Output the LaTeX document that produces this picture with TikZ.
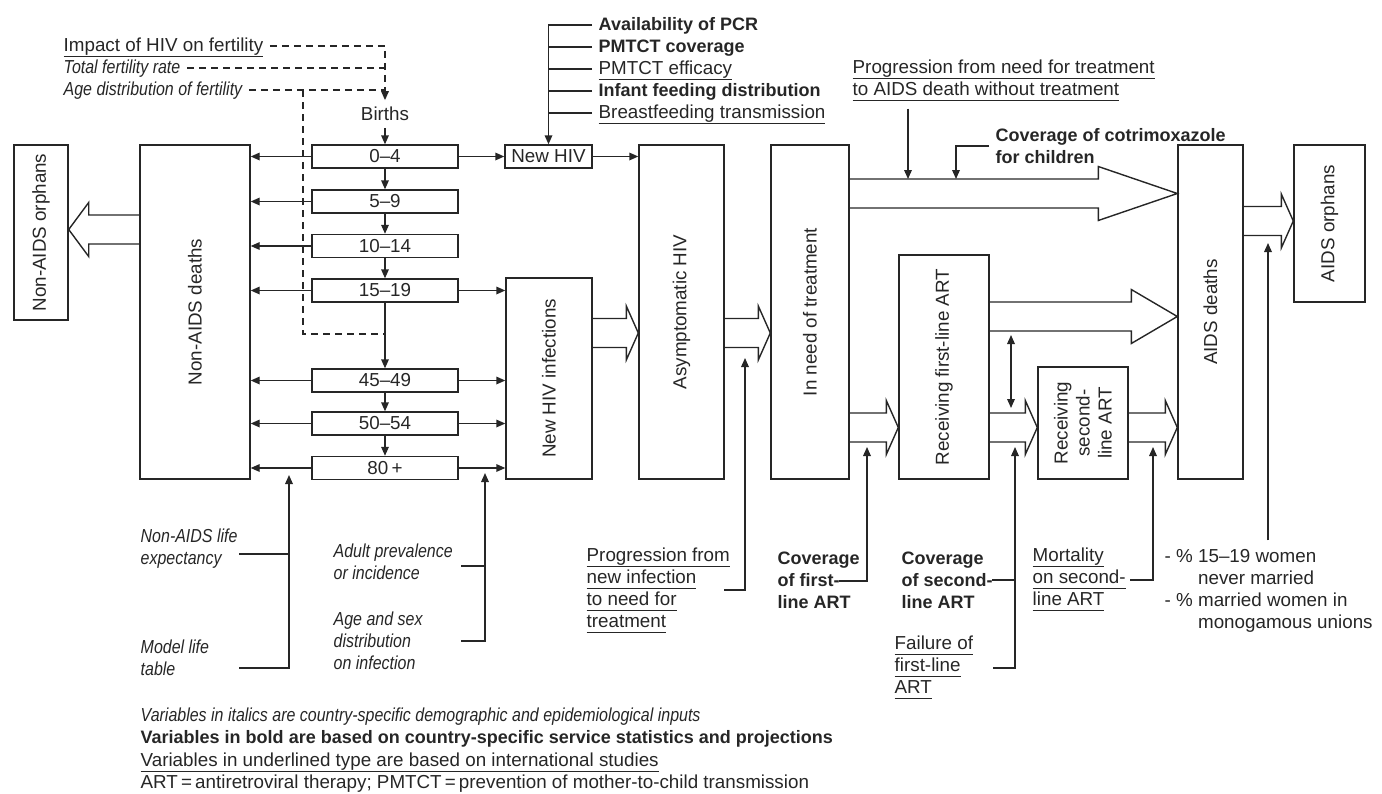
\documentclass[tikz,border=0pt]{standalone}
\usepackage{fontspec}
\setmainfont{Liberation Sans}
\newfontfamily\condfont{Liberation Sans}[FakeStretch=0.85]
\usetikzlibrary{arrows.meta,calc}

\newcommand{\undl}[1]{\underline{\raisebox{0pt}[\height][1.2pt]{#1}}}
\newcommand{\bftxt}{\fontsize{9}{11}\selectfont\bfseries}
% hollow flow arrow: start, tip, head length
\newcommand{\fatarrow}[3]{%
  \draw[fat] let \p1=(#1), \p2=(#2) in
    ({\x1},{\y1+7.25pt}) -- ({\x2-(#3)},{\y1+7.25pt}) -- ({\x2-(#3)},{\y1+13.5pt}) -- ({\x2},{\y1})
    -- ({\x2-(#3)},{\y1-13.5pt}) -- ({\x2-(#3)},{\y1-7.25pt}) -- ({\x1},{\y1-7.25pt});}

\tikzset{
  box/.style={draw, inner sep=1pt},
  agebox/.style={box, minimum width=73pt, minimum height=11.5pt},
  lbl/.style={inner sep=3pt, text height=7pt, text depth=2pt, anchor=west},
  mlbl/.style={inner sep=3pt, align=left, anchor=west},
  inp/.style={mlbl, font=\condfont\itshape},
  fertline/.style={dash pattern=on 3.5pt off 2.5pt},
  fat/.style={line join=miter}
}

\begin{document}
\fontsize{9.4}{11}\selectfont
\begin{tikzpicture}[x=0.5pt,y=-0.5pt,line width=0.7pt,color=black!85,
    >={Triangle[length=4.5pt,width=3.8pt]}]
  \useasboundingbox (0,0) rectangle (1382,793);

  % compartments
  \node[box,minimum width=27pt,minimum height=87.5pt,label={[rotate=90]center:Non-AIDS orphans}] (naorph) at (41,232.5) {};
  \node[box,minimum width=55pt,minimum height=167pt,label={[rotate=90]center:Non-AIDS deaths}] (nadeaths) at (195,312) {};
  \node[box,minimum width=43.5pt,minimum height=11.5pt] (newhiv) at (548.5,156.5) {New HIV};
  \node[box,minimum width=43pt,minimum height=100.5pt,label={[rotate=90]center:New HIV infections}] (newinf) at (549,378.5) {};
  \node[box,minimum width=42.5pt,minimum height=167pt,label={[rotate=90]center:Asymptomatic HIV}] (asym) at (681.5,312) {};
  \node[box,minimum width=39pt,minimum height=167pt,label={[rotate=90]center:In need of treatment}] (need) at (810,312) {};
  \node[box,minimum width=45pt,minimum height=112pt,label={[rotate=90]center:Receiving first-line ART}] (first) at (944,367) {};
  \node[box,minimum width=45pt,minimum height=56pt,label={[rotate=90,align=center]center:{Receiving\\second-\\line ART}}] (second) at (1083,423) {};
  \node[box,minimum width=32.5pt,minimum height=167pt,label={[rotate=90]center:AIDS deaths}] (aidsd) at (1210.5,312) {};
  \node[box,minimum width=35.5pt,minimum height=78.5pt,label={[rotate=90]center:AIDS orphans}] (aidso) at (1329.5,223.5) {};

  % age groups
  \node (births) at (385,114) {Births};
  \foreach \name/\yy/\txt in {a04/156.5/0–4, a59/201.5/5–9, a1014/246/10–14, a1519/290.5/15–19,
      a4549/380.5/45–49, a5054/423.5/50–54, a80/468/80\,+}
    \node[agebox] (\name) at (385,\yy) {\txt};
  \draw[->] (births) -- (a04);
  \foreach \a/\b in {a04/a59, a59/a1014, a1014/a1519, a1519/a4549, a4549/a5054, a5054/a80}
    \draw[->] (\a) -- (\b);
  \foreach \a in {a04,a59,a1014,a1519,a4549,a5054,a80}
    \draw[->] (\a.west) -- (\a.west -| nadeaths.east);
  \foreach \a in {a1519,a4549,a5054,a80}
    \draw[->] (\a.east) -- (\a.east -| newinf.west);
  \draw[->] (a04) -- (newhiv);
  \draw[->] (newhiv) -- (newhiv -| asym.west);

  % fertility inputs
  \node[lbl] (imp) at (57,46) {\undl{Impact of HIV on fertility}};
  \node[lbl,font=\condfont\itshape] (tfr) at (57,68) {Total fertility rate};
  \node[lbl,font=\condfont\itshape] (agedist) at (57,90) {Age distribution of fertility};
  \coordinate (fdrop) at (303,90);
  \coordinate (fjoin) at (385,334);
  \draw[fertline,->] (imp.east) -| (births.north);
  \draw[fertline] (tfr.east) -- (tfr.east -| births.north);
  \draw[fertline] (agedist.east) -- (agedist.east -| births.north);
  \draw[fertline] (fdrop) |- (fjoin);

  % child infection inputs
  \foreach \name/\yy/\txt in {pcr/25/{\bftxt Availability of PCR}, pmcov/47/{\bftxt PMTCT coverage},
      pmeff/69/\undl{PMTCT efficacy}, infeed/91/{\bftxt Infant feeding distribution},
      bfeed/113/\undl{Breastfeeding transmission}}
    \node[lbl] (\name) at (592,\yy) {\txt};
  \draw[->] (pcr.west) -| (newhiv.north);
  \foreach \name in {pmcov,pmeff,infeed,bfeed}
    \draw (\name.west) -- (\name.west -| newhiv.north);

  % flows
  \coordinate (fA) at (nadeaths.west |- 0,229.5);
  \coordinate (fAt) at (naorph.east |- 0,229.5);
  \fatarrow{fA}{fAt}{-10pt}
  \coordinate (fB) at (newinf.east |- 0,333);
  \coordinate (fBt) at (asym.west |- 0,333);
  \fatarrow{fB}{fBt}{6pt}
  \coordinate (fC) at (asym.east |- 0,333);
  \coordinate (fCt) at (need.west |- 0,333);
  \fatarrow{fC}{fCt}{6pt}
  \coordinate (fD) at (need.east |- 0,193.5);
  \coordinate (fDt) at (aidsd.west |- 0,193.5);
  \fatarrow{fD}{fDt}{39.5pt}
  \coordinate (fE) at (need.east |- 0,427.5);
  \coordinate (fEt) at (first.west |- 0,427.5);
  \fatarrow{fE}{fEt}{6pt}
  \coordinate (fF) at (first.east |- 0,316.5);
  \coordinate (fFt) at (aidsd.west |- 0,316.5);
  \fatarrow{fF}{fFt}{23pt}
  \coordinate (fG) at (first.east |- 0,427.5);
  \coordinate (fGt) at (second.west |- 0,427.5);
  \fatarrow{fG}{fGt}{6pt}
  \coordinate (fH) at (second.east |- 0,427.5);
  \coordinate (fHt) at (aidsd.west |- 0,427.5);
  \fatarrow{fH}{fHt}{6pt}
  \coordinate (fI) at (aidsd.east |- 0,221);
  \coordinate (fIt) at (aidso.west |- 0,221);
  \fatarrow{fI}{fIt}{6pt}
  \coordinate (swtop) at (1011,335);
  \coordinate (swbot) at (1011,408);
  \draw[<->] (swtop) -- (swbot);

  % progression inputs
  \node[mlbl] (pnd) at (846,81) {\undl{Progression from need for treatment}\\\undl{to AIDS death without treatment}};
  \node[mlbl,font=\bftxt] (cotri) at (989,146) {Coverage of cotrimoxazole\\for children};
  \coordinate (pndin) at (908,179);
  \coordinate (cotriin) at (956,179);
  \draw[->] (pnd.south -| pndin) -- (pndin);
  \draw[->] (cotri.west) -| (cotriin);

  % bottom inputs
  \node[inp] (nale) at (134,549) {Non-AIDS life\\expectancy};
  \node[inp] (mlt) at (134,657.5) {Model life\\table};
  \node[inp] (adult) at (327,562) {Adult prevalence\\or incidence};
  \node[inp] (agesex) at (327,641) {Age and sex\\distribution\\on infection};
  \node[mlbl] (pni) at (580,591) {\undl{Progression from}\\\undl{new infection}\\\undl{to need for}\\\undl{treatment}};
  \node[mlbl,font=\bftxt] (cov1) at (771,580) {Coverage\\of first-\\line ART};
  \node[mlbl,font=\bftxt] (cov2) at (895,580) {Coverage\\of second-\\line ART};
  \node[mlbl] (fail) at (888,668) {\undl{Failure of}\\\undl{first-line}\\\undl{ART}};
  \node[mlbl] (mort) at (1026,580) {\undl{Mortality}\\\undl{on second-}\\\undl{line ART}};
  \node[mlbl] (marr) at (1158,591) {\begin{tabular}{@{}l@{ }l@{}}- \% & 15–19 women\\ & never married\\- \% & married women in\\ & monogamous unions\end{tabular}};

  \coordinate (lifein) at (289,475);
  \coordinate (infin) at (485,473);
  \coordinate (pniin) at (745,358);
  \coordinate (cov1in) at (867,447);
  \coordinate (cov2in) at (1015,447);
  \coordinate (mortin) at (1153,447);
  \coordinate (marrin) at (1268,243);
  \coordinate (naleR) at (239,554);
  \coordinate (mltR) at (239,668);
  \coordinate (adultR) at (461,566);
  \coordinate (agesexR) at (461,641);
  \coordinate (pniR) at (724,590);
  \coordinate (cov1R) at (839,581);
  \coordinate (cov2R) at (992,580);
  \coordinate (failR) at (993,668);
  \coordinate (mortR) at (1130,580);
  \draw (naleR) -- (naleR -| lifein);
  \draw[->] (mltR) -| (lifein);
  \draw (adultR) -- (adultR -| infin);
  \draw[->] (agesexR) -| (infin);
  \draw[->] (pniR) -| (pniin);
  \draw[->] (cov1R) -| (cov1in);
  \draw (cov2R) -- (cov2R -| cov2in);
  \draw[->] (failR) -| (cov2in);
  \draw[->] (mortR) -| (mortin);
  \draw[->] (marr.north -| marrin) -- (marrin);

  % key
  \node[lbl,font=\condfont\itshape] (leg1) at (134,716) {Variables in italics are country-specific demographic and epidemiological inputs};
  \node[lbl,font=\bftxt] (leg2) at (134,738.5) {Variables in bold are based on country-specific service statistics and projections};
  \node[lbl] (leg3) at (134,761) {\undl{Variables in underlined type are based on international studies}};
  \node[lbl] (leg4) at (134,783.5) {ART\,=\,antiretroviral therapy; PMTCT\,=\,prevention of mother-to-child transmission};
\end{tikzpicture}
\end{document}
